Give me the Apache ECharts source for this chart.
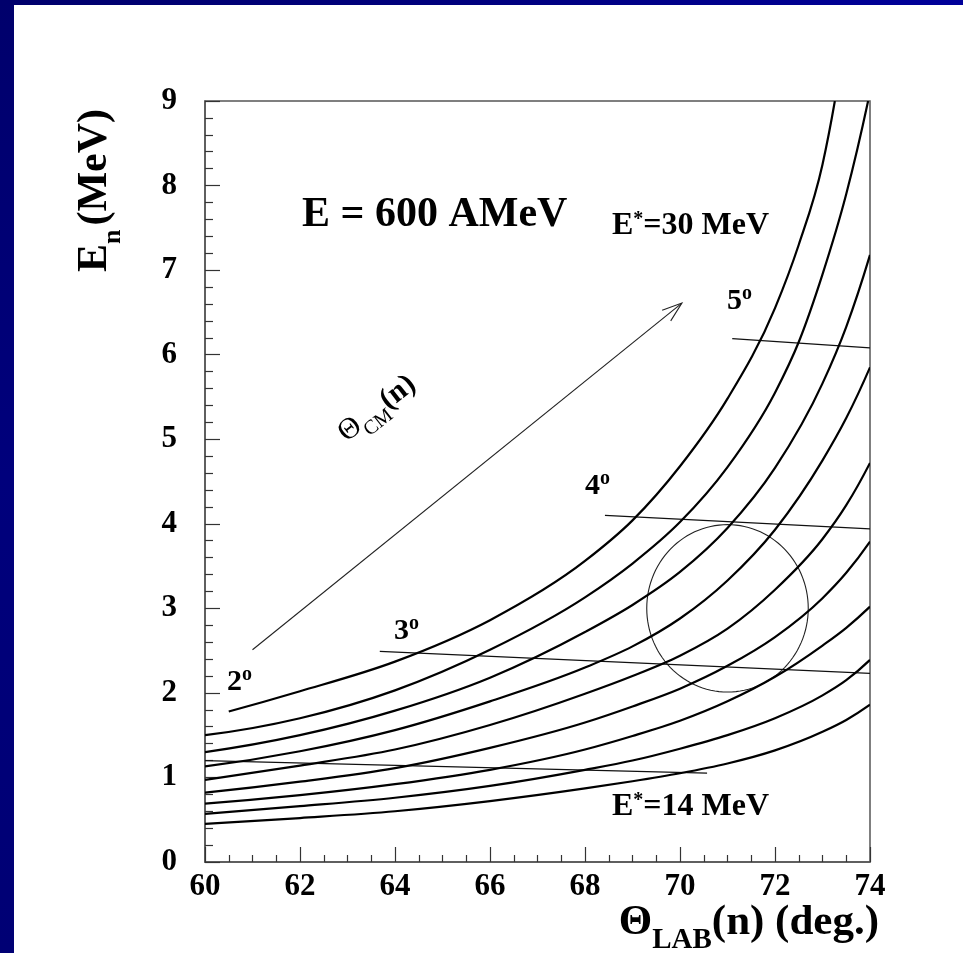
<!DOCTYPE html>
<html>
<head>
<meta charset="utf-8">
<script src="https://cdn.jsdelivr.net/npm/echarts@6/dist/echarts.min.js"></script>
<style>
  html, body { margin: 0; padding: 0; background: #ffffff; }
  #chart { width: 963px; height: 953px; }
</style>
</head>
<body>
<div id="chart"></div>
<script>
// Neutron energy vs. lab angle for a 600 AMeV beam, one curve per excitation energy E*
const excitation = [14, 16, 18, 20, 22, 24, 26, 28, 30];
const thetaGrid = [60, 62, 64, 66, 68, 69, 70, 71, 72, 73, 73.5, 74];
const enE14 = [0.45, 0.52, 0.60, 0.72, 0.87, 0.955, 1.05, 1.165, 1.32, 1.54, 1.68, 1.86];
const enE16 = [0.57, 0.66, 0.76, 0.90, 1.09, 1.20, 1.34, 1.50, 1.70, 1.97, 2.15, 2.39];
const enE18 = [0.69, 0.79, 0.92, 1.09, 1.33, 1.49, 1.67, 1.90, 2.19, 2.56, 2.77, 3.02];
const enE20 = [0.82, 0.95, 1.11, 1.35, 1.65, 1.84, 2.05, 2.32, 2.66, 3.12, 3.42, 3.79];
const enE22 = [0.97, 1.14, 1.33, 1.62, 1.99, 2.20, 2.44, 2.76, 3.22, 3.82, 4.22, 4.72];
const enE24 = [1.13, 1.31, 1.56, 1.90, 2.30, 2.55, 2.88, 3.33, 3.93, 4.75, 5.25, 5.85];
const enE26 = [1.30, 1.50, 1.79, 2.18, 2.72, 3.04, 3.43, 3.95, 4.66, 5.66, 6.33, 7.18];
// the two highest curves leave through the top of the frame
const thetaE28 = [60, 62, 64, 66, 68, 69, 70, 71, 72, 72.5, 73, 73.5, 73.96];
const enE28 = [1.50, 1.70, 2.03, 2.51, 3.13, 3.53, 4.02, 4.67, 5.55, 6.15, 6.95, 7.90, 9.0];
const thetaE30 = [60.5, 62, 64, 66, 68, 69, 70, 71, 72, 72.5, 73, 73.26];
const enE30 = [1.78, 2.02, 2.37, 2.86, 3.56, 4.04, 4.68, 5.48, 6.55, 7.30, 8.25, 9.0];

const curveTheta = [thetaGrid, thetaGrid, thetaGrid, thetaGrid, thetaGrid, thetaGrid, thetaGrid, thetaE28, thetaE30];
const curveEn = [enE14, enE16, enE18, enE20, enE22, enE24, enE26, enE28, enE30];

// Lines of constant centre-of-mass angle
const cmAngles = [2, 3, 4, 5];
const cmLine2 = [[60, 1.20], [70.57, 1.05]];
const cmLine3 = [[63.68, 2.49], [74, 2.23]];
const cmLine4 = [[68.42, 4.10], [74, 3.94]];
const cmLine5 = [[71.10, 6.19], [74, 6.08]];
const cmLines = [cmLine2, cmLine3, cmLine4, cmLine5];

// Acceptance window and direction of increasing Theta_CM
const windowCenter = [71.0, 3.0];
const windowRadius = [1.70, 0.99];
const arrowFrom = [61.0, 2.51];
const arrowTo = [70.04, 6.61];

// Axis ranges and ticks
const xRange = [60, 74];
const yRange = [0, 9];
const xStep = 2;
const yStep = 1;

const SERIF = '"Liberation Serif", "Times New Roman", serif';

const measureCtx = document.createElement('canvas').getContext('2d');
function textWidth(text, font) {
  measureCtx.font = font;
  return measureCtx.measureText(text).width;
}

// Lay out a run of text pieces (with sub/superscripts) left to right
function textRun(pieces, x, y, rotation, align) {
  let cursor = 0;
  const children = [];
  pieces.forEach(p => {
    const font = (p.bold === false ? '' : 'bold ') + p.size + 'px ' + SERIF;
    children.push({
      type: 'text',
      x: cursor,
      y: p.dy || 0,
      style: { text: p.t, font: font, fill: '#000', textAlign: 'left', textVerticalAlign: 'bottom' }
    });
    cursor += textWidth(p.t, font) + (p.gap || 0);
  });
  const shift = align === 'right' ? -cursor : 0;
  children.forEach(c => { c.x += shift; });
  return { type: 'group', x: x, y: y, rotation: rotation || 0, children: children, z: 20 };
}

// Slopes for a smooth cubic Hermite curve through the sampled points
function slopes(xs, ys) {
  const n = xs.length, m = new Array(n);
  const s = [], h = [];
  for (let k = 0; k < n - 1; k++) { h.push(xs[k + 1] - xs[k]); s.push((ys[k + 1] - ys[k]) / h[k]); }
  for (let k = 1; k < n - 1; k++) m[k] = (s[k - 1] * h[k] + s[k] * h[k - 1]) / (h[k - 1] + h[k]);
  m[0] = ((2 * h[0] + h[1]) * s[0] - h[0] * s[1]) / (h[0] + h[1]);
  const e = n - 2;
  m[n - 1] = ((2 * h[e] + h[e - 1]) * s[e] - h[e] * s[e - 1]) / (h[e] + h[e - 1]);
  return m;
}

function curveSeries(xs, ys, label) {
  const m = slopes(xs, ys);
  return {
    type: 'custom',
    name: label,
    data: xs.map((x, k) => [x, ys[k]]),
    encode: { x: 0, y: 1 },
    clip: true,
    z: 5,
    renderItem: function (params, api) {
      if (params.dataIndex !== 0) return null;
      const p0 = api.coord([xs[0], ys[0]]);
      let d = 'M' + p0[0] + ' ' + p0[1];
      for (let k = 0; k < xs.length - 1; k++) {
        const hk = xs[k + 1] - xs[k];
        const c1 = api.coord([xs[k] + hk / 3, ys[k] + m[k] * hk / 3]);
        const c2 = api.coord([xs[k + 1] - hk / 3, ys[k + 1] - m[k + 1] * hk / 3]);
        const p1 = api.coord([xs[k + 1], ys[k + 1]]);
        d += ' C' + c1[0] + ' ' + c1[1] + ' ' + c2[0] + ' ' + c2[1] + ' ' + p1[0] + ' ' + p1[1];
      }
      return { type: 'path', shape: { pathData: d }, style: { fill: 'none', stroke: '#000', lineWidth: 2.2 } };
    }
  };
}

const chart = echarts.init(document.getElementById('chart'), null, { renderer: 'canvas' });

const curveSeriesList = curveEn.map((en, i) => curveSeries(curveTheta[i], en, 'E* = ' + excitation[i] + ' MeV'));

const cmSeries = cmLines.map((c, i) => ({
  name: 'theta_cm ' + cmAngles[i],
  type: 'line',
  data: c,
  showSymbol: false,
  lineStyle: { color: '#111', width: 1.2 },
  z: 4
}));

const windowSeries = {
  type: 'custom',
  name: 'window',
  data: [[windowCenter[0], windowCenter[1], windowRadius[0], windowRadius[1]]],
  renderItem: function (params, api) {
    const cx = api.value(0), cy = api.value(1), rx = api.value(2), ry = api.value(3);
    const pts = [];
    for (let k = 0; k < 120; k++) {
      const a = (k / 120) * Math.PI * 2;
      pts.push(api.coord([cx + rx * Math.cos(a), cy + ry * Math.sin(a)]));
    }
    return {
      type: 'polygon',
      shape: { points: pts },
      style: { fill: 'none', stroke: '#222', lineWidth: 1.1 }
    };
  },
  z: 4
};

const arrowSeries = {
  type: 'custom',
  name: 'arrow',
  data: [[arrowFrom[0], arrowFrom[1], arrowTo[0], arrowTo[1]]],
  renderItem: function (params, api) {
    const p0 = api.coord([api.value(0), api.value(1)]);
    const p1 = api.coord([api.value(2), api.value(3)]);
    const ang = Math.atan2(p1[1] - p0[1], p1[0] - p0[0]);
    const head = 21, spread = 0.33;
    const h1 = [p1[0] - head * Math.cos(ang - spread), p1[1] - head * Math.sin(ang - spread)];
    const h2 = [p1[0] - head * Math.cos(ang + spread), p1[1] - head * Math.sin(ang + spread)];
    return {
      type: 'group',
      children: [
        { type: 'line', shape: { x1: p0[0], y1: p0[1], x2: p1[0], y2: p1[1] }, style: { stroke: '#222', lineWidth: 1.1 } },
        { type: 'polyline', shape: { points: [h1, p1, h2] }, style: { stroke: '#222', lineWidth: 1.1, fill: 'none' } }
      ]
    };
  },
  z: 4
};

const axisColor = '#555';
const option = {
  animation: false,
  backgroundColor: '#ffffff',
  grid: { left: 205, right: 93, top: 101, bottom: 91, show: true, borderColor: axisColor, borderWidth: 1.5, backgroundColor: 'transparent' },
  xAxis: {
    type: 'value', min: xRange[0], max: xRange[1], interval: xStep,
    axisLine: { show: true, lineStyle: { color: axisColor, width: 1.5 } },
    axisTick: { show: true, inside: true, length: 15, lineStyle: { color: '#333', width: 1.2 } },
    minorTick: { show: true, splitNumber: 4, length: 7, lineStyle: { color: '#333', width: 1.2 } },
    splitLine: { show: false },
    axisLabel: { color: '#000', fontFamily: SERIF, fontWeight: 'bold', fontSize: 31, margin: 9 }
  },
  yAxis: {
    type: 'value', min: yRange[0], max: yRange[1], interval: yStep,
    axisLine: { show: true, lineStyle: { color: axisColor, width: 1.5 } },
    axisTick: { show: true, inside: true, length: 15, lineStyle: { color: '#333', width: 1.2 } },
    minorTick: { show: true, splitNumber: 5, length: 8, lineStyle: { color: '#333', width: 1.2 } },
    splitLine: { show: false },
    axisLabel: { color: '#000', fontFamily: SERIF, fontWeight: 'bold', fontSize: 31, margin: 28 }
  },
  graphic: [
    // slide frame
    { type: 'rect', shape: { x: 0, y: 0, width: 963, height: 5 }, style: { fill: new echarts.graphic.LinearGradient(0, 0, 1, 0, [{ offset: 0, color: '#00006c' }, { offset: 0.5, color: '#00007e' }, { offset: 1, color: '#00009a' }]) }, z: 30 },
    { type: 'rect', shape: { x: 0, y: 0, width: 14, height: 953 }, style: { fill: new echarts.graphic.LinearGradient(0, 0, 0, 1, [{ offset: 0, color: '#00006c' }, { offset: 0.5, color: '#00007c' }, { offset: 1, color: '#000074' }]) }, z: 30 },
    // axis titles
    textRun([{ t: 'E', size: 42 }, { t: 'n', size: 26, dy: 10, gap: 4 }, { t: '(MeV)', size: 42 }], 116, 272, Math.PI / 2),
    textRun([{ t: 'Θ', size: 43 }, { t: 'LAB', size: 29, dy: 11 }, { t: '(n) (deg.)', size: 43 }], 879, 944, 0, 'right'),
    // annotations
    textRun([{ t: 'E = 600 AMeV', size: 42 }], 302, 236),
    textRun([{ t: 'E', size: 32 }, { t: '*', size: 20, dy: -12 }, { t: '=30 MeV', size: 32 }], 612, 242),
    textRun([{ t: 'E', size: 32 }, { t: '*', size: 20, dy: -12 }, { t: '=14 MeV', size: 32 }], 612, 823),
    textRun([{ t: '2', size: 30 }, { t: 'o', size: 20, dy: -12 }], 227, 697),
    textRun([{ t: '3', size: 30 }, { t: 'o', size: 20, dy: -12 }], 394, 646),
    textRun([{ t: '4', size: 30 }, { t: 'o', size: 20, dy: -12 }], 585, 501),
    textRun([{ t: '5', size: 30 }, { t: 'o', size: 20, dy: -12 }], 727, 316),
    textRun([{ t: 'Θ', size: 30, bold: false }, { t: 'CM', size: 20, bold: false, dy: 7 }, { t: '(n)', size: 30 }], 351, 448, 38 * Math.PI / 180)
  ],
  series: [...curveSeriesList, ...cmSeries, windowSeries, arrowSeries]
};
chart.setOption(option);
</script>
</body>
</html>
